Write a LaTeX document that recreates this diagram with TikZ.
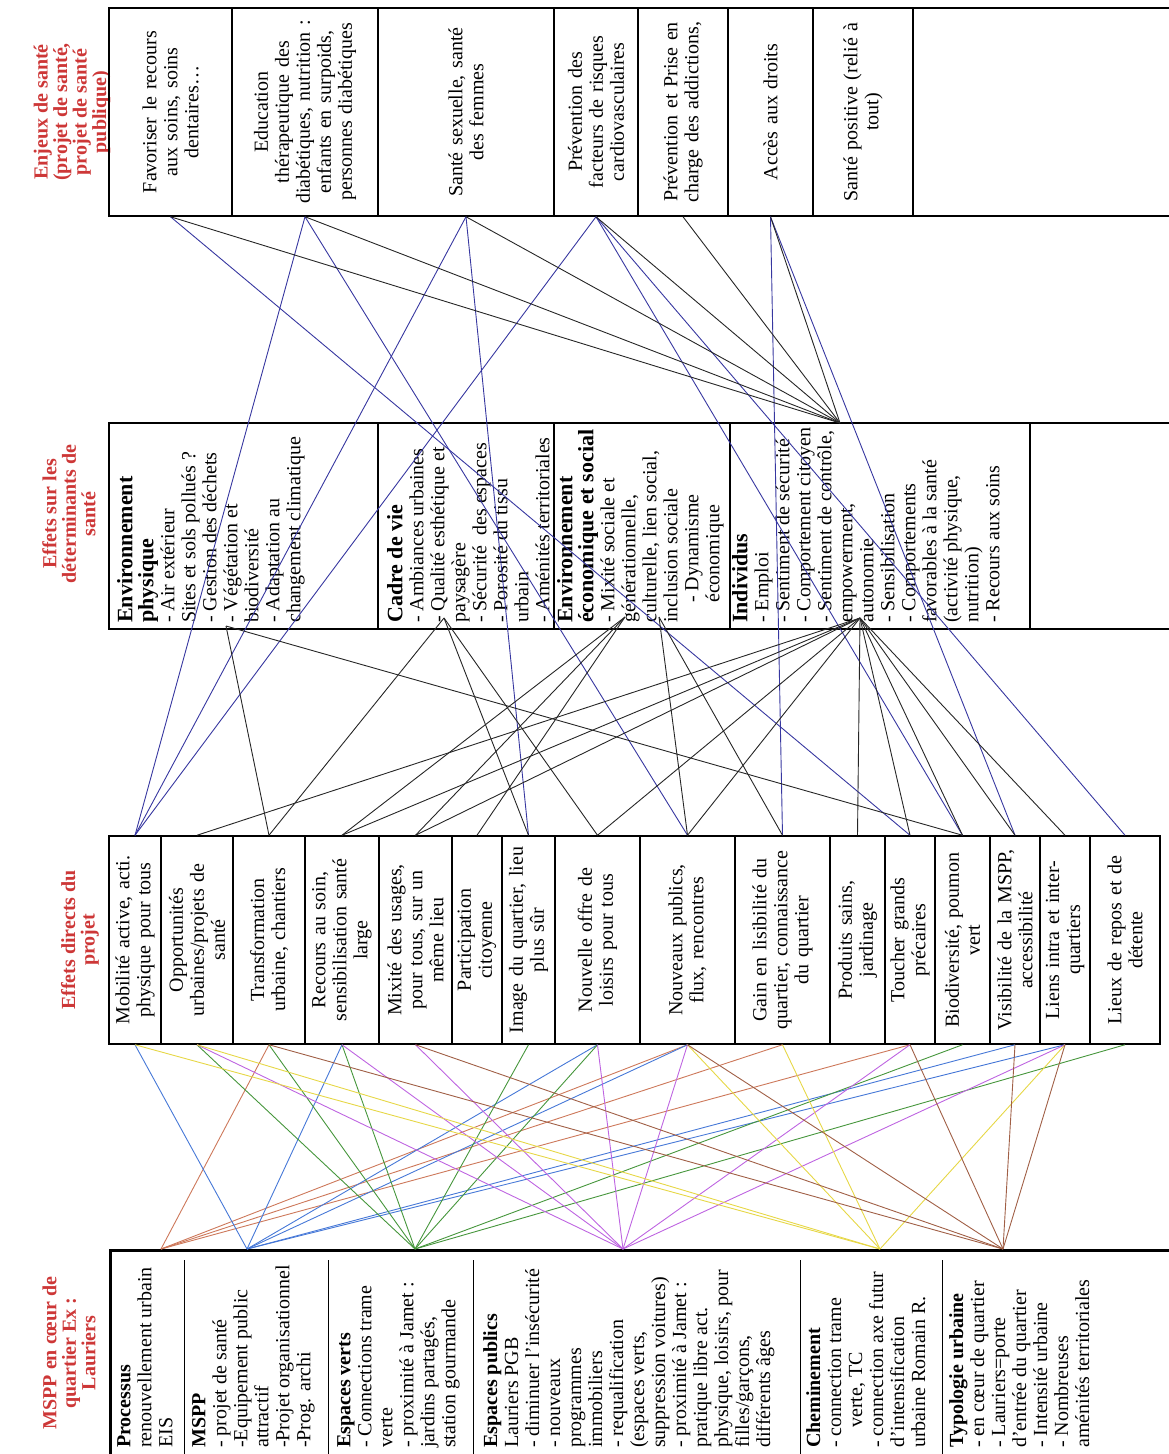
\documentclass[tikz,border=0pt]{standalone}
\usepackage{fontspec}
\setmainfont{Liberation Serif}
\usetikzlibrary{positioning}

\definecolor{titred}{RGB}{205,55,55}
\definecolor{lkblue}{RGB}{55,55,160}
\definecolor{cproc}{RGB}{205,120,90}
\definecolor{cmspp}{RGB}{70,120,215}
\definecolor{cverts}{RGB}{70,150,60}
\definecolor{cpub}{RGB}{190,100,225}
\definecolor{cchem}{RGB}{230,215,70}
\definecolor{ctypo}{RGB}{160,95,70}

\newcommand{\txt}{\fontsize{20}{21}\selectfont}
\newcommand{\tit}{\fontsize{20}{19.5}\selectfont\bfseries}
\newcommand{\hd}[1]{{\fontsize{22}{22}\selectfont\bfseries #1}}

\begin{document}
\begin{tikzpicture}[x=1pt, y=-1pt]
\tikzstyle{enjeu} = [draw, line width=1.5pt, rotate=90, minimum width=208pt, text width=192pt, align=center, inner sep=0pt, font=\txt]
\tikzstyle{determ} = [draw, line width=1.5pt, rotate=90, minimum width=206pt, inner sep=0pt]
\tikzstyle{dtext} = [rotate=90, anchor=north west, align=left, inner sep=0pt, font=\txt]
\tikzstyle{effet} = [enjeu]
\tikzstyle{bandtitle} = [rotate=90, align=center, font=\tit, text=titred]
\tikzstyle{link} = [line width=0.9pt, black!85]
\tikzstyle{blink} = [link, lkblue]

\useasboundingbox (0,0) rectangle (1169,1454);

% titres
\node (t1) [bandtitle] at (72,112) {Enjeux de santé\\(projet de santé,\\projet de santé\\publique)};
\node (t2) [bandtitle] at (69,514) {Effets sur les\\déterminants de\\santé};
\node (t3) [bandtitle] at (80,940) {Effets directs du\\projet};
\node (t4) [bandtitle] at (69,1353) {MSPP en cœur de\\quartier Ex :\\Lauriers};

% enjeux de sante
\node (e1) [enjeu, minimum height=123pt] at (170.5,112) {Favoriser le recours\\aux soins, soins\\dentaires…};
\node (e2) [enjeu, minimum height=146pt] at (305,112) {Education\\thérapeutique des\\diabétiques, nutrition :\\enfants en surpoids,\\personnes diabétiques};
\node (e3) [enjeu, minimum height=176pt] at (466,112) {Santé sexuelle, santé\\des femmes};
\node (e4) [enjeu, minimum height=84pt] at (596,112) {Prévention des\\facteurs de risques\\cardiovasculaires};
\node (e5) [enjeu, minimum height=90pt] at (683,112) {Prévention et Prise en\\charge des addictions,};
\node (e6) [enjeu, minimum height=85pt] at (770.5,112) {Accès aux droits};
\node (e7) [enjeu, minimum height=100pt] at (863,112) {Santé positive (relié à\\tout)};
\node (e8) [enjeu, minimum height=262pt] at (1044,112) {};
\draw[line width=2.5pt] (109,8) rectangle (1175,216);

% determinants
\node (p1) [determ, minimum height=269pt] at (243.5,526) {};
\node (p2) [determ, minimum height=176pt] at (466,526) {};
\node (p3) [determ, minimum height=176pt] at (642,526) {};
\node (p4) [determ, minimum height=300pt] at (880,526) {};
\node (p5) [determ, minimum height=145pt] at (1102.5,526) {};
\draw[line width=2.5pt] (109,423) rectangle (1175,629);
\node (p1t) [dtext] at (117,623) {\hd{Environnement}\\\hd{physique}\\- Air extérieur\\Sites et sols pollués ?\\- Gestion des déchets\\- Végétation et\\biodiversité\\- Adaptation au\\changement climatique};
\node (p2t) [dtext] at (387,623) {\hd{Cadre de vie}\\- Ambiances urbaines\\- Qualité esthétique et\\paysagère\\- Sécurité \ des espaces\\- Porosité du tissu\\urbain\\- Aménités territoriales};
\node (p3t) [dtext] at (557,623) {\hd{Environnement}\\\hd{économique et social}\\- Mixité sociale et\\générationnelle,\\culturelle, lien social,\\inclusion sociale\\\quad- Dynamisme\\\quad économique};
\node (p4t) [dtext] at (732,623) {\hd{Individus}\\- Emploi\\- Sentiment de sécurité\\- Comportement citoyen\\- Sentiment de contrôle,\\empowerment,\\autonomie\\- Sensibilisation\\- Comportements\\favorables à la santé\\(activité physique,\\nutrition)\\- Recours aux soins};

% effets directs
\node (d1) [effet, minimum height=52pt] at (135,940) {Mobilité active, acti.\\physique pour tous};
\node (d2) [effet, minimum height=72pt] at (197,940) {Opportunités\\urbaines/projets de\\santé};
\node (d3) [effet, minimum height=72pt] at (269,940) {Transformation\\urbaine, chantiers};
\node (d4) [effet, minimum height=74pt] at (342,940) {Recours au soin,\\sensibilisation santé\\large};
\node (d5) [effet, minimum height=73pt] at (415.5,940) {Mixité des usages,\\pour tous, sur un\\même lieu};
\node (d6) [effet, minimum height=50pt] at (477,940) {Participation\\citoyenne};
\node (d7) [effet, minimum height=53pt] at (528.5,940) {Image du quartier, lieu\\plus sûr};
\node (d8) [effet, minimum height=85pt] at (597.5,940) {Nouvelle offre de\\loisirs pour tous};
\node (d9) [effet, minimum height=95pt] at (687.5,940) {Nouveaux publics,\\flux, rencontres};
\node (d10) [effet, minimum height=95pt] at (782.5,940) {Gain en lisibilité du\\quartier, connaissance\\du quartier};
\node (d11) [effet, minimum height=55pt] at (857.5,940) {Produits sains,\\jardinage};
\node (d12) [effet, minimum height=50pt] at (910,940) {Toucher grands\\précaires};
\node (d13) [effet, minimum height=55pt] at (962.5,940) {Biodiversité, poumon\\vert};
\node (d14) [effet, minimum height=50pt] at (1015,940) {Visibilité de la MSPP,\\accessibilité};
\node (d15) [effet, minimum height=50pt] at (1065,940) {Liens intra et inter-\\quartiers};
\node (d16) [effet, minimum height=70pt] at (1125,940) {Lieux de repos et de\\détente};
\draw[line width=2.5pt] (109,836) -- (1160,836) -- (1160,1044) -- (109,1044) -- cycle;

% MSPP en coeur de quartier
\node (mspp) [draw, line width=2.5pt, minimum width=1075pt, minimum height=215pt, anchor=north west, inner sep=0pt] at (109,1249) {};
\foreach \xr in {184,328,473,800,942}
  \draw[line width=0.8pt] (\xr,1260) -- (\xr,1460);
\node (m1) [dtext] at (117,1448) {\textbf{Processus}\\renouvellement urbain\\EIS};
\node (m2) [dtext] at (192,1448) {\textbf{MSPP}\\- projet de santé\\-Equipement public\\attractif\\-Projet organisationnel\\-Prog. archi};
\node (m3) [dtext] at (337,1448) {\textbf{Espaces verts}\\- Connections trame\\verte\\- proximité à Jamet :\\jardins partagés,\\station gourmande};
\node (m4) [dtext] at (483,1448) {\textbf{Espaces publics}\\Lauriers PGB\\- diminuer l'insécurité\\- nouveaux\\programmes\\immobiliers\\- requalification\\(espaces verts,\\suppression voitures)\\- proximité à Jamet :\\pratique libre act.\\physique, loisirs, pour\\filles/garçons,\\différents âges};
\node (m5) [dtext] at (806,1448) {\textbf{Cheminement}\\- connection trame\\\quad verte, TC\\- connection axe futur\\d'intensification\\urbaine Romain R.};
\node (m6) [dtext] at (949,1448) {\textbf{Typologie urbaine}\\- en cœur de quartier\\- Lauriers=porte\\d'entrée du quartier\\- Intensité urbaine\\- Nombreuses\\aménités territoriales};

% points de convergence
\coordinate (qInd) at (840,423);
\coordinate (pVeg) at (226,626);
\coordinate (pQual) at (444,618);
\coordinate (pMix) at (625,617);
\coordinate (pCult) at (659,617);
\coordinate (pCtrl) at (860,618);
\coordinate (sProc) at (161,1249);
\coordinate (sMspp) at (247,1249);
\coordinate (sVerts) at (415,1249);
\coordinate (sPub) at (623,1249);
\coordinate (sChem) at (880,1249);
\coordinate (sTypo) at (1003,1249);

% enjeux -> effets directs
\foreach \a/\b in {e2/d1, e3/d1, e4/d1, e2/d9, e3/d7, e4/d16, e6/d14, e6/d10, e1/d12, e4/d13}
  \draw[blink] (\a.west) -- (\b.east);
% enjeux -> determinants
\foreach \a in {e1, e2, e3, e4, e5, e6}
  \draw[link] (\a.west) -- (qInd);

% determinants -> effets directs
\foreach \b in {d2, d4, d5, d8, d9, d11, d12, d13, d14, d15}
  \draw[link] (pCtrl) -- (\b.east);
\foreach \b in {d3, d7, d8}
  \draw[link] (pQual) -- (\b.east);
\foreach \b in {d4, d5, d6}
  \draw[link] (pMix) -- (\b.east);
\foreach \b in {d9, d10}
  \draw[link] (pCult) -- (\b.east);
\foreach \b in {d3, d13}
  \draw[link] (pVeg) -- (\b.east);

% MSPP -> effets directs
\foreach \b in {d3, d9, d10, d12}
  \draw[link, cproc] (sProc) -- (\b.west);
\foreach \b in {d1, d4, d8, d9, d14, d15}
  \draw[link, cmspp] (sMspp) -- (\b.west);
\foreach \b in {d2, d3, d4, d7, d8, d13, d16}
  \draw[link, cverts] (sVerts) -- (\b.west);
\foreach \b in {d2, d4, d5, d8, d9, d12, d15}
  \draw[link, cpub] (sPub) -- (\b.west);
\foreach \b in {d1, d2, d9, d10, d15}
  \draw[link, cchem] (sChem) -- (\b.west);
\foreach \b in {d3, d5, d9, d12, d14, d15}
  \draw[link, ctypo] (sTypo) -- (\b.west);

\end{tikzpicture}
\end{document}
